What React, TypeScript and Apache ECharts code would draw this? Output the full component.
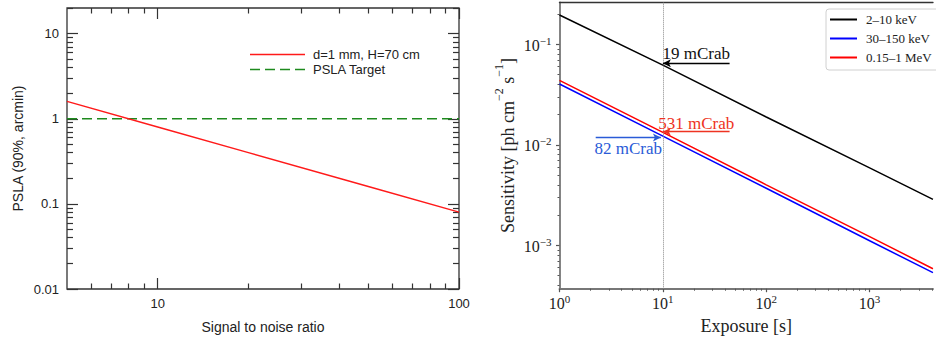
import React, { useEffect, useRef } from "react";
import * as echarts from "echarts";

// ---------- Left panel data ----------
const snr = [5, 10, 20, 50, 100];
const pslaSim = [1.6, 0.8, 0.4, 0.16, 0.08];
const pslaTarget = [1, 1, 1, 1, 1];
const leftLegend = ["d=1 mm, H=70 cm", "PSLA Target"];
const snrMajorTicks = [10, 100];
const snrMinorTicks = [6, 7, 8, 9, 20, 30, 40, 50, 60, 70, 80, 90];
const pslaMajorTicks = [0.01, 0.1, 1, 10];
const pslaMinorTicks = [
  0.02, 0.03, 0.04, 0.05, 0.06, 0.07, 0.08, 0.09,
  0.2, 0.3, 0.4, 0.5, 0.6, 0.7, 0.8, 0.9,
  2, 3, 4, 5, 6, 7, 8, 9, 20,
];
const snrRange = [5, 100];
const pslaRange = [0.01, 20];

// ---------- Right panel data ----------
const exposure = [1, 10, 100, 1000, 4100];
const sens2to10 = [0.196, 0.062, 0.0189, 0.0059, 0.00287];
const sens30to150 = [0.0403, 0.0122, 0.0037, 0.00111, 0.000534];
const sens150to1000 = [0.0438, 0.0133, 0.004, 0.00122, 0.000585];
const rightLegend = ["2–10 keV", "30–150 keV", "0.15–1 MeV"];
const expMajorTicks = [1, 10, 100, 1000];
const expMinorTicks = [
  2, 3, 4, 5, 6, 7, 8, 9,
  20, 30, 40, 50, 60, 70, 80, 90,
  200, 300, 400, 500, 600, 700, 800, 900,
  2000, 3000, 4000,
];
const sensMajorTicks = [0.001, 0.01, 0.1];
const sensMinorTicks = [
  0.0004, 0.0005, 0.0006, 0.0007, 0.0008, 0.0009,
  0.002, 0.003, 0.004, 0.005, 0.006, 0.007, 0.008, 0.009,
  0.02, 0.03, 0.04, 0.05, 0.06, 0.07, 0.08, 0.09, 0.2,
];
const expRange = [1, 4103];
const sensRange = [0.00037, 0.262];
const markExposure = 10;
// annotations: label, level, arrow from, arrow to
const crabLabels = ["19 mCrab", "531 mCrab", "82 mCrab"];
const crabLevels = [0.065, 0.0135, 0.0118];
const crabArrowFrom = [44.2, 44.2, 2.24];
const crabArrowTo = [10, 10, 9.57];

const SANS = '"Liberation Sans", Arial, sans-serif';
const SERIF = '"Liberation Serif", "DejaVu Serif", serif';
const lg = (v: number) => Math.log10(v);

const SOLID_ICON = "path://M0,0H55V1.5H0Z";
const DASH_ICON = "path://M0,0H10V1.5H0Z M15,0H25V1.5H15Z M30,0H40V1.5H30Z M45,0H55V1.5H45Z";

function isPow10(v: number) {
  const l = Math.log10(v);
  return Math.abs(l - Math.round(l)) < 1e-6;
}
function plainLabel(v: number) {
  if (!isPow10(v)) return "";
  const e = Math.round(Math.log10(v));
  return e >= 0 ? String(Math.pow(10, e)) : Math.pow(10, e).toFixed(-e);
}
function powLabel(v: number) {
  if (!isPow10(v)) return "";
  const e = Math.round(Math.log10(v));
  return `{b|10}{s|${e < 0 ? "−" + -e : e}}`;
}

const powRich = {
  b: { fontFamily: SERIF, fontSize: 16, lineHeight: 18, verticalAlign: "bottom", color: "#222" },
  s: { fontFamily: SERIF, fontSize: 11, lineHeight: 11, verticalAlign: "top", color: "#222" },
};

function tickAxis(
  grid: number,
  position: string,
  range: number[],
  values: number[],
  length: number,
  inside: boolean,
  color: string,
  width: number,
  line?: any
) {
  return {
    gridIndex: grid,
    type: "value",
    position,
    min: lg(range[0]),
    max: lg(range[1]),
    axisLine: line ? { show: true, onZero: false, lineStyle: line } : { show: false, onZero: false },
    axisLabel: { show: false },
    splitLine: { show: false },
    axisTick: values.length
      ? { show: true, inside, length, customValues: values.map(lg), lineStyle: { color, width } }
      : { show: false },
  };
}

export default function App() {
  const ref = useRef<HTMLDivElement>(null);
  useEffect(() => {
    if (!ref.current) return;
    const chart = echarts.init(ref.current, undefined, { renderer: "svg" });
    const LC = "#333";
    const RC = "#555";
    const option: any = {
      animation: false,
      backgroundColor: "#fff",
      grid: [
        { left: 67, top: 8, width: 392, height: 281, show: true, borderColor: "#333", borderWidth: 1.3, backgroundColor: "transparent" },
        { left: 559.5, top: 2.3, width: 376.5, height: 286.4 },
      ],
      legend: [
        {
          data: [
            { name: leftLegend[0], icon: SOLID_ICON },
            { name: leftLegend[1], icon: DASH_ICON },
          ],
          left: 250,
          top: 47,
          padding: 0,
          orient: "vertical",
          itemWidth: 55,
          itemHeight: 1.5,
          itemGap: 0,
          symbolKeepAspect: false,
          selectedMode: false,
          textStyle: { fontFamily: SANS, fontSize: 13, lineHeight: 15, color: "#222", padding: [0, 0, 0, 3] },
        },
        {
          data: rightLegend,
          left: 826,
          top: 9,
          orient: "vertical",
          icon: "rect",
          itemWidth: 27,
          itemHeight: 2,
          itemGap: 0,
          selectedMode: false,
          backgroundColor: "#fff",
          borderColor: "#d0d0d0",
          borderWidth: 1,
          borderRadius: 3,
          padding: [1, 20, 3, 4],
          textStyle: { fontFamily: SERIF, fontSize: 13, lineHeight: 19, color: "#222", padding: [0, 0, 0, 4] },
        },
      ],
      xAxis: [
        {
          gridIndex: 0,
          type: "log",
          min: snrRange[0],
          max: snrRange[1],
          position: "bottom",
          axisLine: { show: false, onZero: false },
          axisTick: { show: false },
          splitLine: { show: false },
          axisLabel: { formatter: plainLabel, margin: 8, fontFamily: SANS, fontSize: 13, color: "#222" },
          name: "Signal to noise ratio",
          nameLocation: "middle",
          nameGap: 31,
          nameTextStyle: { fontFamily: SANS, fontSize: 14, color: "#222" },
        },
        tickAxis(0, "bottom", snrRange, snrMajorTicks, 11, true, LC, 1.2),
        tickAxis(0, "bottom", snrRange, snrMinorTicks, 5.5, true, LC, 1.2),
        tickAxis(0, "top", snrRange, snrMajorTicks, 11, true, LC, 1.2),
        tickAxis(0, "top", snrRange, snrMinorTicks, 5.5, true, LC, 1.2),
        {
          gridIndex: 1,
          type: "log",
          min: expRange[0],
          max: expRange[1],
          position: "bottom",
          axisLine: { show: true, onZero: false, lineStyle: { color: "#777", width: 1.8 } },
          axisTick: { show: false },
          splitLine: { show: false },
          axisLabel: { formatter: powLabel, margin: 5, rich: powRich },
          name: "Exposure [s]",
          nameLocation: "middle",
          nameGap: 24,
          nameTextStyle: { fontFamily: SERIF, fontSize: 18, color: "#222" },
        },
        tickAxis(1, "bottom", expRange, expMajorTicks, 3.5, false, RC, 1.2),
        tickAxis(1, "bottom", expRange, expMinorTicks, 2, false, RC, 1),
        tickAxis(1, "top", expRange, [], 0, false, RC, 1, { color: "#333", width: 1.3 }),
      ],
      yAxis: [
        {
          gridIndex: 0,
          type: "log",
          min: pslaRange[0],
          max: pslaRange[1],
          position: "left",
          axisLine: { show: false, onZero: false },
          axisTick: { show: false },
          splitLine: { show: false },
          axisLabel: { formatter: plainLabel, margin: 8, fontFamily: SANS, fontSize: 13, color: "#222" },
          name: "PSLA (90%, arcmin)",
          nameLocation: "middle",
          nameGap: 42,
          nameTextStyle: { fontFamily: SANS, fontSize: 14, color: "#222" },
        },
        tickAxis(0, "left", pslaRange, pslaMajorTicks, 11, true, LC, 1.2),
        tickAxis(0, "left", pslaRange, pslaMinorTicks, 6, true, LC, 1.2),
        tickAxis(0, "right", pslaRange, pslaMajorTicks, 11, true, LC, 1.2),
        tickAxis(0, "right", pslaRange, pslaMinorTicks, 6, true, LC, 1.2),
        {
          gridIndex: 1,
          type: "log",
          min: sensRange[0],
          max: sensRange[1],
          position: "left",
          axisLine: { show: true, onZero: false, lineStyle: { color: "#777", width: 1.8 } },
          axisTick: { show: false },
          splitLine: { show: false },
          axisLabel: { formatter: powLabel, margin: 8, rich: powRich },
          name: "{t|Sensitivity [ph cm}{s|−2}{t| s}{s|−1}{t|]}",
          nameLocation: "middle",
          nameGap: 43,
          nameTextStyle: {
            fontFamily: SERIF,
            fontSize: 18,
            color: "#222",
            rich: {
              t: { fontFamily: SERIF, fontSize: 18, lineHeight: 24, verticalAlign: "bottom", color: "#222" },
              s: { fontFamily: SERIF, fontSize: 12, lineHeight: 12, verticalAlign: "top", color: "#222" },
            },
          },
        },
        tickAxis(1, "left", sensRange, sensMajorTicks, 3.5, false, RC, 1.2),
        tickAxis(1, "left", sensRange, sensMinorTicks, 2, false, RC, 1),
      ],
      series: [
        {
          name: leftLegend[0],
          type: "line",
          xAxisIndex: 0,
          yAxisIndex: 0,
          data: snr.map((x, i) => [x, pslaSim[i]]),
          symbol: "none",
          showSymbol: false,
          lineStyle: { color: "#ff1a1a", width: 1.5 },
          itemStyle: { color: "#ff1a1a" },
          z: 3,
        },
        {
          name: leftLegend[1],
          type: "line",
          xAxisIndex: 0,
          yAxisIndex: 0,
          data: snr.map((x, i) => [x, pslaTarget[i]]),
          symbol: "none",
          showSymbol: false,
          lineStyle: { color: "#1e8a1e", width: 1.5, type: [10, 5] },
          itemStyle: { color: "#1e8a1e" },
          z: 2,
        },
        {
          name: rightLegend[0],
          type: "line",
          xAxisIndex: 5,
          yAxisIndex: 5,
          data: exposure.map((x, i) => [x, sens2to10[i]]),
          symbol: "none",
          showSymbol: false,
          lineStyle: { color: "#000", width: 1.5 },
          itemStyle: { color: "#000" },
          markLine: {
            silent: true,
            symbol: ["none", "none"],
            symbolSize: [6, 8],
            data: [
              { xAxis: markExposure, lineStyle: { type: "dotted", color: "#888", width: 1 }, label: { show: false } },
              [
                {
                  coord: [crabArrowTo[0], crabLevels[0]],
                  symbol: "arrow",
                  lineStyle: { type: "solid", color: "#000", width: 1.3 },
                  label: { show: true, formatter: crabLabels[0], position: "insideMiddleTop", distance: 1, color: "#111", fontFamily: SERIF, fontSize: 17 },
                },
                { coord: [crabArrowFrom[0], crabLevels[0]], symbol: "none" },
              ],
            ],
          },
        },
        {
          name: rightLegend[1],
          type: "line",
          xAxisIndex: 5,
          yAxisIndex: 5,
          data: exposure.map((x, i) => [x, sens30to150[i]]),
          symbol: "none",
          showSymbol: false,
          lineStyle: { color: "#0000ff", width: 1.5 },
          itemStyle: { color: "#0000ff" },
          markLine: {
            silent: true,
            symbol: ["none", "none"],
            symbolSize: [6, 8],
            data: [
              [
                {
                  coord: [crabArrowFrom[2], crabLevels[2]],
                  symbol: "none",
                  lineStyle: { type: "solid", color: "#2a5bd7", width: 1.3 },
                  label: { show: true, formatter: crabLabels[2], position: "insideMiddleBottom", distance: 2, color: "#2a5bd7", fontFamily: SERIF, fontSize: 17 },
                },
                { coord: [crabArrowTo[2], crabLevels[2]], symbol: "arrow" },
              ],
            ],
          },
        },
        {
          name: rightLegend[2],
          type: "line",
          xAxisIndex: 5,
          yAxisIndex: 5,
          data: exposure.map((x, i) => [x, sens150to1000[i]]),
          symbol: "none",
          showSymbol: false,
          lineStyle: { color: "#ff0000", width: 1.5 },
          itemStyle: { color: "#ff0000" },
          markLine: {
            silent: true,
            symbol: ["none", "none"],
            symbolSize: [6, 8],
            data: [
              [
                {
                  coord: [crabArrowTo[1], crabLevels[1]],
                  symbol: "arrow",
                  lineStyle: { type: "solid", color: "#ee3322", width: 1.3 },
                  label: { show: true, formatter: crabLabels[1], position: "insideMiddleTop", distance: 0, color: "#ee3322", fontFamily: SERIF, fontSize: 17 },
                },
                { coord: [crabArrowFrom[1], crabLevels[1]], symbol: "none" },
              ],
            ],
          },
        },
      ],
    };
    chart.setOption(option);
    return () => chart.dispose();
  }, []);
  return (
    <div
      ref={ref}
      style={{ position: "fixed", left: 0, top: 0, width: 936, height: 340, background: "#fff" }}
    />
  );
}
